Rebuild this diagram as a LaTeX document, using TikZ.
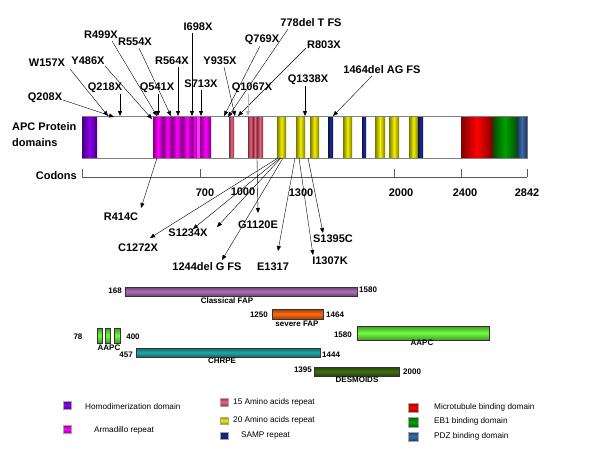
\documentclass[tikz,border=0pt]{standalone}
\usepackage{fontspec}
\setmainfont{Liberation Sans}
\usetikzlibrary{arrows.meta}
\definecolor{cviolet}{HTML}{8A00F0}
\definecolor{cmag}{HTML}{FF00FF}
\definecolor{cpink}{HTML}{F0607F}
\definecolor{cyel}{HTML}{F2F000}
\definecolor{cnavy}{HTML}{1A2A90}
\definecolor{cred}{HTML}{FF0000}
\definecolor{cgreen}{HTML}{00A000}
\definecolor{csteel}{HTML}{3A6AAA}
\definecolor{cfap}{HTML}{B070B8}
\definecolor{csev}{HTML}{FF6A10}
\definecolor{caapc}{HTML}{70FF40}
\definecolor{cchr}{HTML}{20A8A8}
\definecolor{cdes}{HTML}{3F7010}
\begin{document}
\begin{tikzpicture}[x=1pt,y=-1pt,
  mut/.style={font=\bfseries\fontsize{11}{12}\selectfont, inner sep=0pt},
  arr/.style={-{Triangle[length=5pt,width=4pt]}, line width=0.4pt},
  garr/.style={arr, draw=gray!60, line width=1pt},
  num/.style={font=\bfseries\fontsize{8}{9}\selectfont, inner sep=0pt},
  leg/.style={font=\fontsize{8.2}{9}\selectfont, anchor=west, inner sep=0pt},
  hseg/.style={left color=#1!50!black, right color=#1!50!black, middle color=#1},
  vbar/.style={top color=#1!60!black, bottom color=#1!60!black, middle color=#1, draw=black!80, line width=0.4pt},
  lsq/.style={top color=#1!60!black, bottom color=#1!60!black, middle color=#1, draw=gray!70, line width=0.3pt}]
\useasboundingbox (0,0) rectangle (600,450);
\fill[white] (0,0) rectangle (600,450);

% ---- protein bar ----
\node[mut, anchor=west] (lab1) at (12,127) {APC Protein};
\node[mut, anchor=west] (lab2) at (12,143) {domains};
\node[mut, anchor=east] (codons) at (77,176) {Codons};

\draw[gray, line width=0.5pt] (82,116) rectangle (527,158);
\path[hseg=cviolet] (82,116) rectangle (97,158);
\path[hseg=cmag] (153,116) rectangle (163,158);
\path[hseg=cmag] (163,116) rectangle (172,158);
\path[hseg=cmag] (172,116) rectangle (182,158);
\path[hseg=cmag] (182,116) rectangle (192,158);
\path[hseg=cmag] (192,116) rectangle (197,158);
\fill[cmag!80!white] (197,116) rectangle (200,158);
\path[hseg=cmag] (200,116) rectangle (211,158);
\path[hseg=cpink] (229,116) rectangle (234,158);
\path[hseg=cpink] (248,116) rectangle (253,158);
\path[hseg=cpink] (253,116) rectangle (257,158);
\path[hseg=cpink] (257,116) rectangle (263,158);
\path[hseg=cyel] (277,116) rectangle (286,158);
\path[hseg=cyel] (296,116) rectangle (305,158);
\path[hseg=cyel] (310,116) rectangle (319,158);
\path[hseg=cnavy] (328,116) rectangle (333,158);
\path[hseg=cyel] (343,116) rectangle (352,158);
\path[hseg=cnavy] (362,116) rectangle (366,158);
\path[hseg=cyel] (375,116) rectangle (385,158);
\path[hseg=cyel] (389,116) rectangle (399,158);
\path[hseg=cyel] (409,116) rectangle (418,158);
\path[hseg=cnavy] (418,116) rectangle (423,158);
\path[hseg=cred] (461,116) rectangle (493,158);
\path[hseg=cgreen] (493,116) rectangle (517,158);
\path[hseg=csteel] (517,116) rectangle (527,158);
\draw[gray, line width=0.5pt] (82,116) -- (527,116) (82,158) -- (527,158);

% ---- codon axis ----
\draw[gray!70!black, line width=0.5pt] (82,177) -- (527,177);
\foreach \x in {82,200,394,461,527} \draw[gray!70!black, line width=0.5pt] (\x,169) -- (\x,177);
\node[mut] (c700) at (205,193) {700};
\node[mut] (c1000) at (243,192) {1000};
\node[mut] (c1300) at (301,193) {1300};
\node[mut] (c2000) at (401,193) {2000};
\node[mut] (c2400) at (465,193) {2400};
\node[mut] (c2842) at (527,193) {2842};

% ---- mutations above ----
\node[mut] (w157) at (47,63) {W157X};
\node[mut] (q208) at (45,98) {Q208X};
\node[mut] (y486) at (88,61) {Y486X};
\node[mut] (r499) at (101,35) {R499X};
\node[mut] (r554) at (135,42) {R554X};
\node[mut] (i698) at (198,27) {I698X};
\node[mut] (r564) at (172,61) {R564X};
\node[mut] (y935) at (220,61) {Y935X};
\node[mut] (q218) at (105,88) {Q218X};
\node[mut] (q541) at (157,88) {Q541X};
\node[mut] (s713) at (201,84) {S713X};
\node[mut] (q1067) at (252,88) {Q1067X};
\node[mut] (q769) at (262,40) {Q769X};
\node[mut] (d778) at (311,23) {778del T FS};
\node[mut] (r803) at (324,45) {R803X};
\node[mut] (q1338) at (308,80) {Q1338X};
\node[mut] (d1464) at (382,70) {1464del AG FS};

\coordinate (tw157) at (108,116);
\coordinate (tq208) at (114,117);
\coordinate (tq218) at (120,116);
\coordinate (ty486) at (152,119);
\coordinate (tr499) at (157,116);
\coordinate (tq541) at (158,116);
\coordinate (tr554) at (171,116);
\coordinate (tr564) at (178,116);
\coordinate (ti698) at (192,116);
\coordinate (ts713) at (201,116);
\coordinate (ty935) at (235,116);
\coordinate (tq769) at (224,116);
\coordinate (td778) at (228,117);
\coordinate (tr803) at (238,116);
\coordinate (tq1067) at (248,116);
\coordinate (tq1338) at (305,116);
\coordinate (td1464) at (333,116);

\draw[arr] (70,69) -- (tw157);
\draw[arr] (63,100) -- (tq208);
\draw[arr] (120,94) -- (tq218);
\draw[arr] (105,66) -- (ty486);
\draw[arr] (112,41) -- (tr499);
\draw[arr] (158,94) -- (tq541);
\draw[arr] (139,48) -- (tr554);
\draw[arr] (178,67) -- (tr564);
\draw[arr] (192,33) -- (ti698);
\draw[arr] (201,90) -- (ts713);
\draw[arr] (224,67) -- (ty935);
\draw[arr] (260,46) -- (tq769);
\draw[arr] (288,29) -- (td778);
\draw[arr] (306,48) -- (tr803);
\draw[garr] (248,94) -- (tq1067);
\draw[arr] (305,86) -- (tq1338);
\draw[arr] (372,76) -- (td1464);

% ---- mutations below ----
\node[mut] (r414) at (121,217) {R414C};
\node[mut] (c1272) at (138,248) {C1272X};
\node[mut] (s1234) at (188,233) {S1234X};
\node[mut] (g1120) at (258,225) {G1120E};
\node[mut] (d1244) at (207,267) {1244del G FS};
\node[mut] (e1317) at (273,267) {E1317};
\node[mut] (i1307) at (330,261) {I1307K};
\node[mut] (s1395) at (333,239) {S1395C};

\coordinate (br414) at (157,158);
\coordinate (bc1272) at (278,158);
\coordinate (bs1234a) at (280,158);
\coordinate (bs1234b) at (281,158);
\coordinate (bg1120) at (257,158);
\coordinate (bd1244) at (283,158);
\coordinate (be1317) at (295,158);
\coordinate (bi1307) at (299,158);
\coordinate (bs1395) at (308,158);

\draw[arr] (br414) -- (141,208);
\draw[arr] (bc1272) -- (150,238);
\draw[arr] (bs1234a) -- (193,229);
\draw[arr] (bs1234b) -- (217,227);
\draw[arr] (bg1120) -- (258,213);
\draw[arr] (bd1244) -- (222,260);
\draw[arr] (be1317) -- (278,251);
\draw[arr] (bi1307) -- (313,255);
\draw[arr] (bs1395) -- (323,233);

% ---- phenotype bars ----
\path[vbar=cfap] (125,287) rectangle (357,296);
\node[num, anchor=east] (n168) at (122,291) {168};
\node[num, anchor=west] (n1580a) at (359,290) {1580};
\node[num] (tfap) at (227,301) {Classical FAP};

\path[vbar=csev] (272,309) rectangle (323,319);
\node[num, anchor=east] (n1250) at (268,315) {1250};
\node[num, anchor=west] (n1464) at (326,315) {1464};
\node[num] (tsev) at (297,324) {severe FAP};

\path[vbar=caapc] (97,328) rectangle (102,343);
\path[vbar=caapc] (105,328) rectangle (110,343);
\path[vbar=caapc] (114,328) rectangle (120,343);
\node[num] (n78) at (78,337) {78};
\node[num] (n400) at (133,337) {400};
\node[num] (taapc1) at (109,348) {AAPC};

\path[vbar=cchr] (136,348) rectangle (320,357);
\node[num, anchor=east] (n457) at (133,355) {457};
\node[num, anchor=west] (n1444) at (322,355) {1444};
\node[num] (tchr) at (222,361) {CHRPE};

\path[vbar=caapc] (357,326) rectangle (489,340);
\node[num, anchor=east] (n1580b) at (352,335) {1580};
\node[num] (taapc2) at (422,343) {AAPC};

\path[vbar=cdes] (314,367) rectangle (399,376);
\node[num, anchor=east] (n1395) at (312,370) {1395};
\node[num, anchor=west] (n2000) at (403,372) {2000};
\node[num] (tdes) at (357,380) {DESMOIDS};

% ---- legend ----
\path[lsq=cviolet] (63,401) rectangle (71,409);
\node[leg] (l1) at (85,407) {Homodimerization domain};
\path[lsq=cmag] (63,425) rectangle (71,433);
\node[leg] (l2) at (94,430) {Armadillo repeat};
\path[lsq=cpink] (220,398) rectangle (228,406);
\node[leg] (l3) at (233,402) {15 Amino acids repeat};
\path[lsq=cyel] (220,417) rectangle (228,424);
\node[leg] (l4) at (233,420) {20 Amino acids repeat};
\path[lsq=cnavy] (220,432) rectangle (228,439);
\node[leg] (l5) at (241,435) {SAMP repeat};
\path[lsq=cred] (408,403) rectangle (418,412);
\node[leg] (l6) at (434,407) {Microtubule binding domain};
\path[lsq=cgreen] (408,417) rectangle (418,427);
\node[leg] (l7) at (434,421) {EB1 binding domain};
\path[lsq=csteel] (408,432) rectangle (418,441);
\node[leg] (l8) at (434,436) {PDZ binding domain};
\end{tikzpicture}
\end{document}
